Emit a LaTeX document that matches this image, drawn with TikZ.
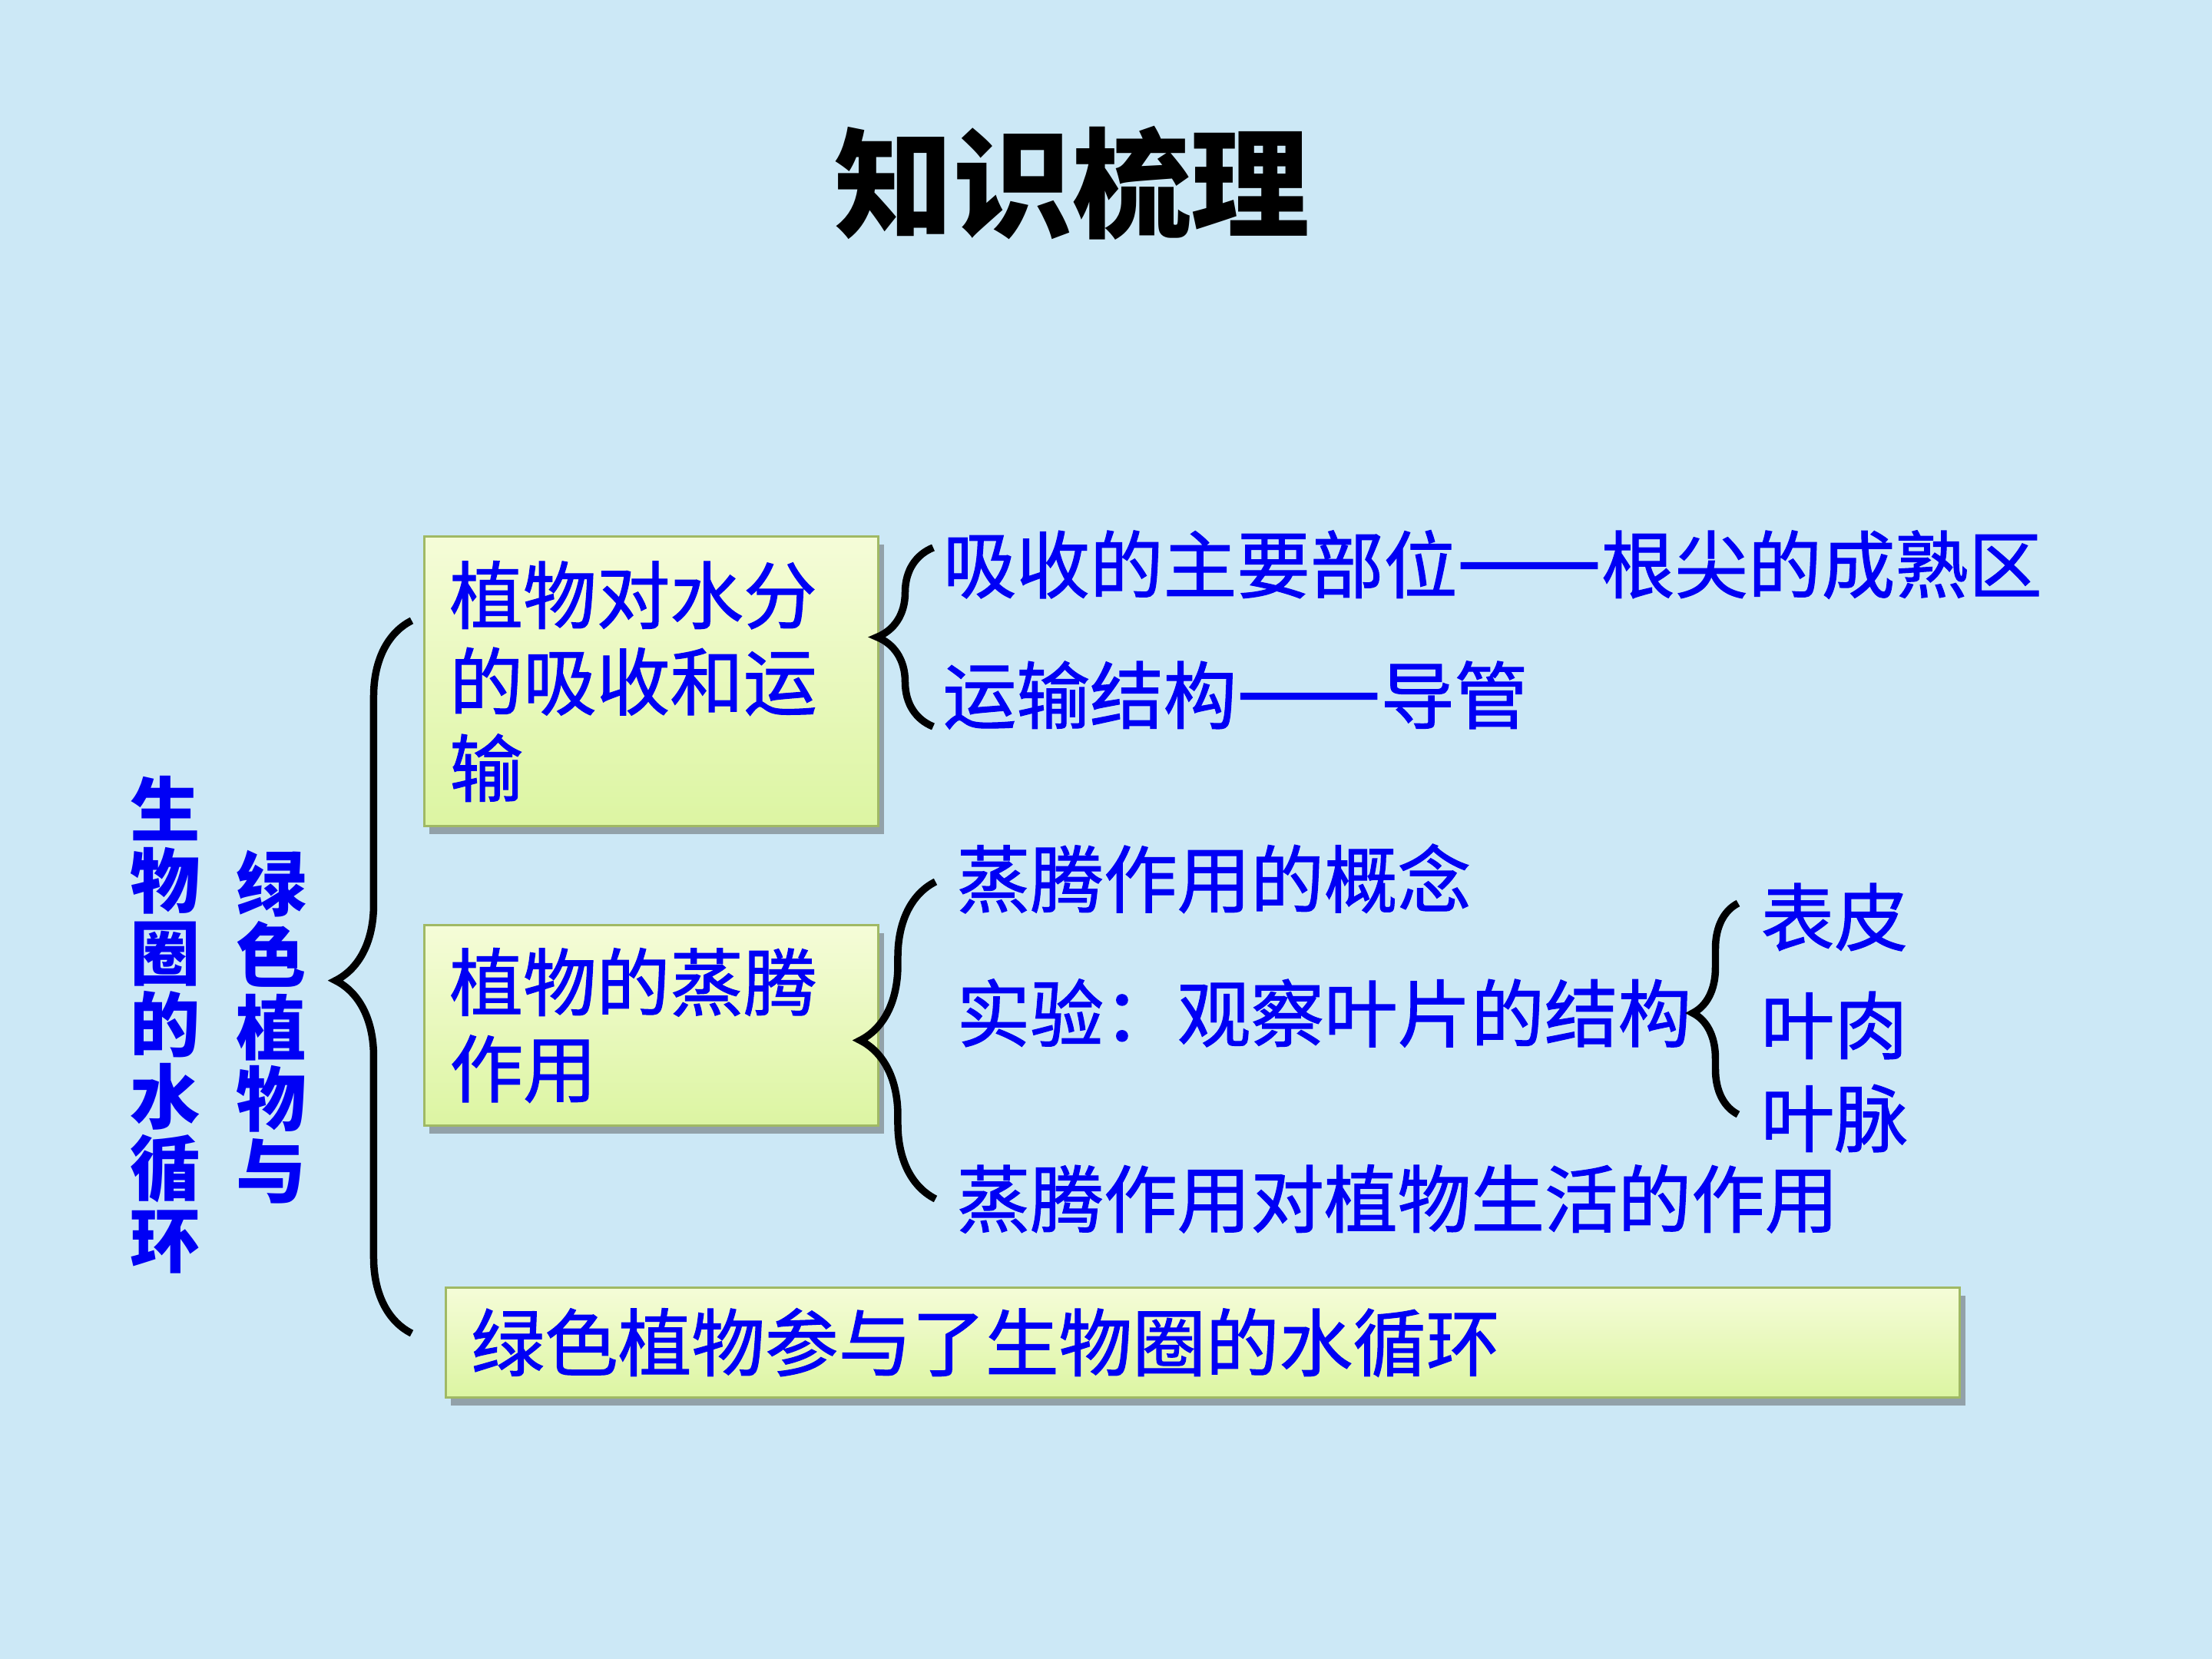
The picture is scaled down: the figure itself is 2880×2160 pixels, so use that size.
\documentclass[tikz,border=0pt]{standalone}
\usepackage{fontspec}
\newfontfamily\cjk{Noto Sans CJK SC}
\newfontfamily\cjkm[FakeBold=1.2]{Noto Sans CJK SC}
\usetikzlibrary{decorations.pathreplacing,shadows}
\definecolor{bg}{RGB}{204,232,246}
\definecolor{txtblue}{RGB}{0,0,245}
\definecolor{boxtop}{RGB}{245,252,216}
\definecolor{boxbot}{RGB}{220,245,162}
\definecolor{boxline}{RGB}{160,185,100}
\newcommand{\longdash}{\scalebox{1.17}[1.3]{——}}
\begin{document}
\begin{tikzpicture}[x=0.01cm,y=-0.01cm,
  txt/.style={font=\cjkm\fontsize{27.2pt}{32pt}\selectfont, text=txtblue},
  item/.style={txt, anchor=west, inner sep=0pt},
  box/.style={txt, draw=boxline, line width=0.8pt, top color=boxtop, bottom color=boxbot,
    anchor=north west, inner xsep=0.33cm, inner ysep=0pt, align=left,
    drop shadow={shadow xshift=2pt, shadow yshift=-3pt, opacity=0.45, fill=black!70}},
  vert/.style={font=\cjk\bfseries\fontsize{26pt}{26.6pt}\selectfont, text=txtblue, align=center, inner sep=0pt},
  bracestyle/.style={decorate, line width=2.7pt, black},
]
\fill[bg] (0,0) rectangle (2880,2160);
\useasboundingbox (0,0) rectangle (2880,2160);

% title
\node[font=\cjk\bfseries\fontsize{44pt}{50pt}\selectfont] (title) at (1396,238) {知识梳理};

% vertical labels
\node[vert] (v1) at (215,1334) {生\\物\\圈\\的\\水\\循\\环};
\node[vert] (v2) at (353,1337) {绿\\色\\植\\物\\与};

% boxes
\node[box, minimum width=5.91cm, minimum height=3.77cm, text width=5.25cm] (p1) at (551,697) {植物对水分\\的吸收和运\\输};
\node[box, minimum width=5.91cm, minimum height=2.61cm, text width=5.25cm] (p2) at (551,1203) {植物的蒸腾\\作用};
\node[box, minimum width=19.70cm, minimum height=1.43cm, text width=19.04cm] (p3) at (579,1675) {绿色植物参与了生物圈的水循环};

% items
\node[item] (i1) at (1227,735) {吸收的主要部位\longdash 根尖的成熟区};
\node[item] (i2) at (1227,905) {运输结构\longdash 导管};
\node[item] (j1) at (1245,1144) {蒸腾作用的概念};
\node[item] (j2) at (1245,1319) {实验：观察叶片的结构};
\node[item] (j3) at (1245,1561) {蒸腾作用对植物生活的作用};
\node[item] (k1) at (2292,1194) {表皮};
\node[item] (k2) at (2292,1335) {叶肉};
\node[item] (k3) at (2292,1456) {叶脉};

% braces
\coordinate (b1t) at (536,808);
\coordinate (b1b) at (536,1736);
\coordinate (b2t) at (1215,713);
\coordinate (b2b) at (1215,946);
\coordinate (b3t) at (1218,1148);
\coordinate (b3b) at (1218,1561);
\coordinate (b4t) at (2263,1176);
\coordinate (b4b) at (2263,1451);
\draw[bracestyle, decoration={brace, amplitude=0.99cm, aspect=0.495}] (b1b) -- (b1t);
\draw[bracestyle, decoration={brace, amplitude=0.73cm}] (b2b) -- (b2t);
\draw[bracestyle, decoration={brace, amplitude=0.98cm}] (b3b) -- (b3t);
\draw[bracestyle, decoration={brace, amplitude=0.59cm, aspect=0.48}] (b4b) -- (b4t);
\end{tikzpicture}
\end{document}
